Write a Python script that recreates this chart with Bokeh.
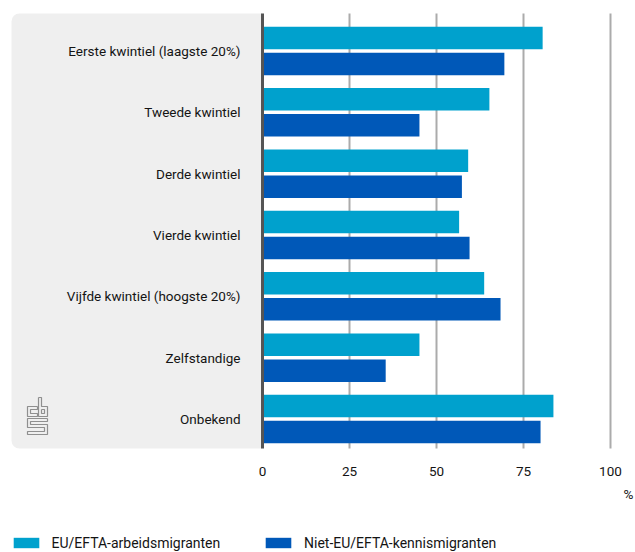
from bokeh.plotting import figure
from bokeh.models import (Range1d, LinearAxis, FixedTicker, BoxAnnotation, Legend,
                          LegendItem, ColumnDataSource)
from bokeh.transform import dodge
from bokeh.core.properties import value
from bokeh.embed import file_html
from bokeh.resources import INLINE

# ---------------- data ----------------
categories = [
    "Eerste kwintiel (laagste 20%)",
    "Tweede kwintiel",
    "Derde kwintiel",
    "Vierde kwintiel",
    "Vijfde kwintiel (hoogste 20%)",
    "Zelfstandige",
    "Onbekend",
]
eu_efta = [80.5, 65.2, 59.1, 56.5, 63.7, 45.1, 83.6]
niet_eu = [69.5, 45.1, 57.3, 59.5, 68.4, 35.4, 79.9]
series_names = ["EU/EFTA-arbeidsmigranten", "Niet-EU/EFTA-kennismigranten"]
x_ticks = [0, 25, 50, 75, 100]
grid_ticks = [25, 50, 75, 100]
unit_label = "%"

# ---------------- style / layout ----------------
LIGHT = "#00a1cd"
DARK = "#0058b8"
PANEL = "#efefef"
TEXT = "#141414"
FONT = "Roboto"

W, H = 635, 552
PX_X = 3.48          # pixels per percent
ZERO_X = 262         # pixel position of 0 within the figure
STEP = 61.33         # pixels per category
FIRST_Y = 50.5       # pixel centre of first category
PANEL_TOP_PX, PANEL_BOTTOM_PX, PANEL_LEFT_PX = 13, 448, 11


def px_x(v):
    return (v - ZERO_X) / PX_X


def px_y(v):
    return (v - FIRST_Y) / STEP


x_range = Range1d(px_x(0), px_x(W))
y_range = Range1d(px_y(H), px_y(0))

panel_top = px_y(PANEL_TOP_PX)
panel_bottom = px_y(PANEL_BOTTOM_PX)
panel_left = px_x(PANEL_LEFT_PX)

p = figure(width=W, height=H, x_range=x_range, y_range=y_range,
           x_axis_location=None, y_axis_location=None,
           toolbar_location=None, output_backend="svg", min_border=0)
p.outline_line_color = None
p.grid.visible = False
p.background_fill_color = "white"
p.border_fill_color = "white"

# grey panel behind the category labels
p.add_layout(BoxAnnotation(left=panel_left, right=0, top=panel_top, bottom=panel_bottom,
                           fill_color=PANEL, fill_alpha=1, line_color=None,
                           border_radius=(8, 0, 0, 8), level="underlay"))

# small CBS logo (outline drawing)
logo_px = [
    [(37, 406), (27, 406), (27, 416), (37, 416), (37, 413), (30, 413), (30, 409), (37, 409), (37, 406)],
    [(38, 397), (41, 397), (41, 406), (47, 406), (47, 416), (38, 416), (38, 397)],
    [(41, 409), (44, 409), (44, 413), (41, 413), (41, 409)],
    [(47, 418), (27, 418), (27, 427), (44, 427), (44, 431), (27, 431), (27, 434), (47, 434),
     (47, 424), (30, 424), (30, 421), (47, 421), (47, 418)],
]
p.multi_line(xs=[[px_x(a) for a, b in poly] for poly in logo_px],
             ys=[[px_y(b) for a, b in poly] for poly in logo_px],
             line_color="#8f8f8f", line_width=1.2)

# vertical grid lines (limited to the panel height)
p.segment(x0=grid_ticks, x1=grid_ticks, y0=[panel_top] * len(grid_ticks),
          y1=[panel_bottom] * len(grid_ticks), line_color="#ababab", line_width=2)

source = ColumnDataSource(dict(y=list(range(len(categories))), eu=eu_efta, niet=niet_eu))
BAR_H = 0.367
OFF = 0.212
r1 = p.hbar(y=dodge("y", -OFF, range=p.y_range), left=0, right="eu", height=BAR_H,
            fill_color=LIGHT, line_color=None, source=source)
r2 = p.hbar(y=dodge("y", OFF, range=p.y_range), left=0, right="niet", height=BAR_H,
            fill_color=DARK, line_color=None, source=source)

# category axis (also the dark zero line)
yaxis = LinearAxis(fixed_location=0, ticker=FixedTicker(ticks=list(range(len(categories)))),
                   major_label_overrides={i: c for i, c in enumerate(categories)},
                   bounds=(panel_top, panel_bottom))
yaxis.axis_line_color = "#555555"
yaxis.axis_line_width = 3
yaxis.major_tick_line_color = None
yaxis.minor_tick_line_color = None
yaxis.major_label_standoff = 16
yaxis.major_label_text_font = FONT
yaxis.major_label_text_font_size = "13.5px"
yaxis.major_label_text_color = TEXT
p.add_layout(yaxis, "left")

# value axis
xaxis = LinearAxis(fixed_location=panel_bottom, ticker=FixedTicker(ticks=x_ticks))
xaxis.axis_line_color = None
xaxis.major_tick_line_color = None
xaxis.minor_tick_line_color = None
xaxis.major_label_standoff = 12
xaxis.major_label_text_font = FONT
xaxis.major_label_text_font_size = "13.5px"
xaxis.major_label_text_color = TEXT
p.add_layout(xaxis, "below")

# unit label
p.text(x=[px_x(628)], y=[px_y(493)], text=[unit_label],
       text_align="center", text_baseline="middle", text_font=value(FONT),
       text_font_size="13.5px", text_color=TEXT)

# legends
for r, name, xpos in [(r1, series_names[0], 9.5), (r2, series_names[1], 262)]:
    leg = Legend(items=[LegendItem(label=name, renderers=[r])], location=(xpos, 1),
                 orientation="horizontal", glyph_width=32, glyph_height=13,
                 label_height=17, label_standoff=10, padding=0, margin=0,
                 border_line_color=None, background_fill_alpha=0,
                 label_text_font=FONT, label_text_font_size="14px",
                 label_text_color=TEXT)
    p.add_layout(leg)

open("out.html", "w").write(file_html(p, INLINE))
